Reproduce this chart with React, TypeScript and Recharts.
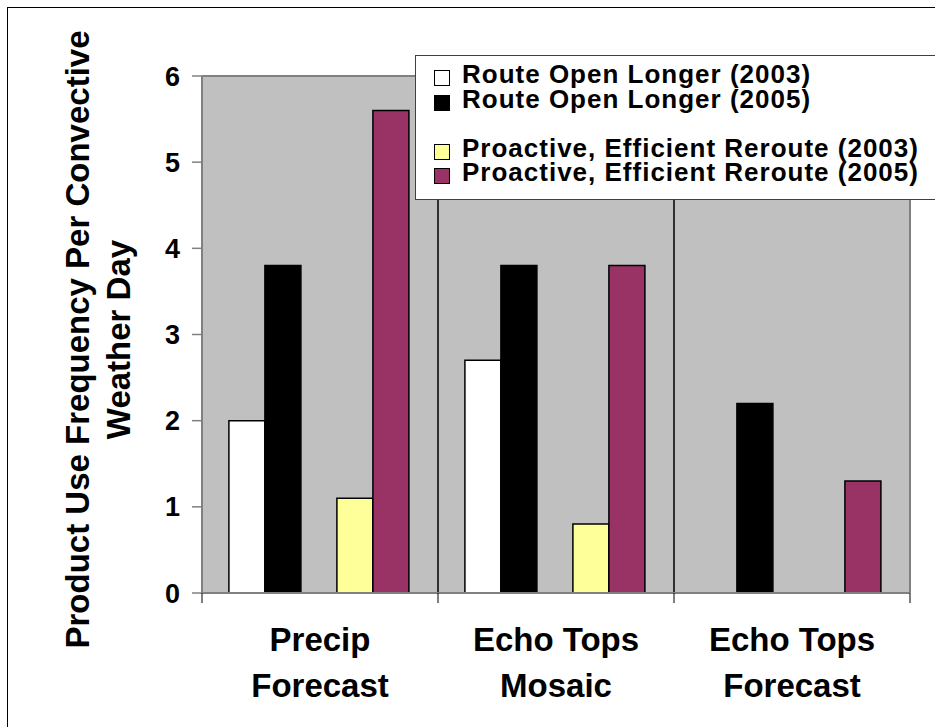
import {
  BarChart,
  Bar,
  XAxis,
  YAxis,
  CartesianGrid,
  Legend,
  ReferenceLine,
} from 'recharts';

const FONT = '"Liberation Sans", Arial, Helvetica, sans-serif';

const categories = ['Precip Forecast', 'Echo Tops Mosaic', 'Echo Tops Forecast'];
const categoryLines = [
  ['Precip', 'Forecast'],
  ['Echo Tops', 'Mosaic'],
  ['Echo Tops', 'Forecast'],
];
const routeOpen2003 = [2.0, 2.7, 0];
const routeOpen2005 = [3.8, 3.8, 2.2];
const reroute2003 = [1.1, 0.8, 0];
const reroute2005 = [5.6, 3.8, 1.3];
const yTicks = [0, 1, 2, 3, 4, 5, 6];

const data = categories.map((name, i) => ({
  name,
  s1: routeOpen2003[i],
  s2: routeOpen2005[i],
  s3: null,
  s4: reroute2003[i],
  s5: reroute2005[i],
}));

// two-line category label plus the little boundary ticks under the axis
const CategoryTick = ({ x, y, index, width, visibleTicksCount }: any) => {
  const lines = categoryLines[index] || [];
  const band = width / visibleTicksCount;
  return (
    <g>
      <line x1={x - band / 2} x2={x - band / 2} y1={y} y2={y + 10} stroke="#000" />
      {index === visibleTicksCount - 1 && (
        <line x1={x + band / 2} x2={x + band / 2} y1={y} y2={y + 10} stroke="#000" />
      )}
      <text
        x={x}
        y={y}
        textAnchor="middle"
        fontFamily={FONT}
        fontWeight="bold"
        fontSize={33}
        fill="#000"
      >
        <tspan x={x} dy={58}>{lines[0]}</tspan>
        <tspan x={x} dy={46}>{lines[1]}</tspan>
      </text>
    </g>
  );
};

const YTitle = ({ viewBox }: any) => {
  const cy = viewBox.y + viewBox.height / 2 + 5;
  const x1 = viewBox.x + 89;
  const x2 = viewBox.x + 130;
  const common = {
    textAnchor: 'middle' as const,
    fontFamily: FONT,
    fontWeight: 'bold',
    fontSize: 33,
    fill: '#000',
  };
  return (
    <g>
      <text x={x1} y={cy} transform={`rotate(-90, ${x1}, ${cy})`} {...common}>
        Product Use Frequency Per Convective
      </text>
      <text x={x2} y={cy} transform={`rotate(-90, ${x2}, ${cy})`} {...common}>
        Weather Day
      </text>
    </g>
  );
};

const LegendBox = ({ payload }: any) => (
  <div
    style={{
      border: '1px solid #404040',
      background: '#fff',
      paddingTop: 6,
      height: 145,
      boxSizing: 'border-box',
      fontFamily: FONT,
      fontWeight: 'bold',
      fontSize: 26,
      letterSpacing: 1,
      color: '#000',
      textAlign: 'left',
    }}
  >
    {(payload || []).map((entry: any, i: number) => (
      <div
        key={i}
        style={{
          position: 'relative',
          height: 24.5,
          lineHeight: '24.5px',
          paddingLeft: 46,
          whiteSpace: 'nowrap',
        }}
      >
        {entry.dataKey === 's3' ? null : (
          <>
            <span
              style={{
                position: 'absolute',
                left: 18,
                top: 8,
                width: 16,
                height: 16,
                boxSizing: 'border-box',
                background: entry.color,
                border: '1.5px solid #000',
              }}
            />
            {entry.value}
          </>
        )}
      </div>
    ))}
  </div>
);

export default function App() {
  return (
    <div
      style={{
        position: 'absolute',
        left: 0,
        top: 0,
        width: 935,
        height: 727,
        overflow: 'hidden',
        background: '#fff',
      }}
    >
      <div
        style={{
          position: 'absolute',
          left: 7,
          top: 7,
          width: 1000,
          height: 1000,
          border: '1px solid #000',
        }}
      />
      <div style={{ position: 'absolute', left: 0, top: 0 }}>
        <BarChart
          width={935}
          height={727}
          data={data}
          margin={{ top: 76, right: 25, bottom: 0, left: 0 }}
          barCategoryGap="11.4%"
          barGap={0}
        >
          <CartesianGrid fill="#C0C0C0" horizontal={false} vertical={false} />
          <XAxis
            dataKey="name"
            height={134}
            interval={0}
            tickLine={false}
            tickSize={0}
            tickMargin={0}
            axisLine={{ stroke: '#808080', strokeWidth: 2 }}
            tick={<CategoryTick />}
          />
          <YAxis
            width={202}
            domain={[0, 6]}
            ticks={yTicks}
            interval={0}
            tickSize={10}
            tickMargin={12}
            axisLine={{ stroke: '#808080', strokeWidth: 2 }}
            tickLine={{ stroke: '#808080', strokeWidth: 1.5 }}
            tick={{ fill: '#000', fontSize: 27, fontWeight: 'bold', fontFamily: FONT }}
            label={{ content: <YTitle /> }}
          />
          <ReferenceLine y={6} stroke="#808080" strokeWidth={2} />
          <ReferenceLine x={categories[2]} position="end" stroke="#808080" strokeWidth={2} />
          <ReferenceLine x={categories[0]} position="end" stroke="#000" strokeWidth={1.5} />
          <ReferenceLine x={categories[1]} position="end" stroke="#000" strokeWidth={1.5} />
          <Bar dataKey="s1" name="Route Open Longer (2003)" fill="#FFFFFF" stroke="#000" strokeWidth={1.5} isAnimationActive={false} />
          <Bar dataKey="s2" name="Route Open Longer (2005)" fill="#000000" stroke="#000" strokeWidth={1.5} isAnimationActive={false} />
          <Bar dataKey="s3" name=" " fill="none" isAnimationActive={false} />
          <Bar dataKey="s4" name="Proactive, Efficient Reroute (2003)" fill="#FFFF99" stroke="#000" strokeWidth={1.5} isAnimationActive={false} />
          <Bar dataKey="s5" name="Proactive, Efficient Reroute (2005)" fill="#993366" stroke="#000" strokeWidth={1.5} isAnimationActive={false} />
          <Legend
            layout="vertical"
            align="center"
            verticalAlign="middle"
            itemSorter="dataKey"
            wrapperStyle={{ left: 415, top: 55, width: 560, height: 145 }}
            content={<LegendBox />}
          />
        </BarChart>
      </div>
    </div>
  );
}
